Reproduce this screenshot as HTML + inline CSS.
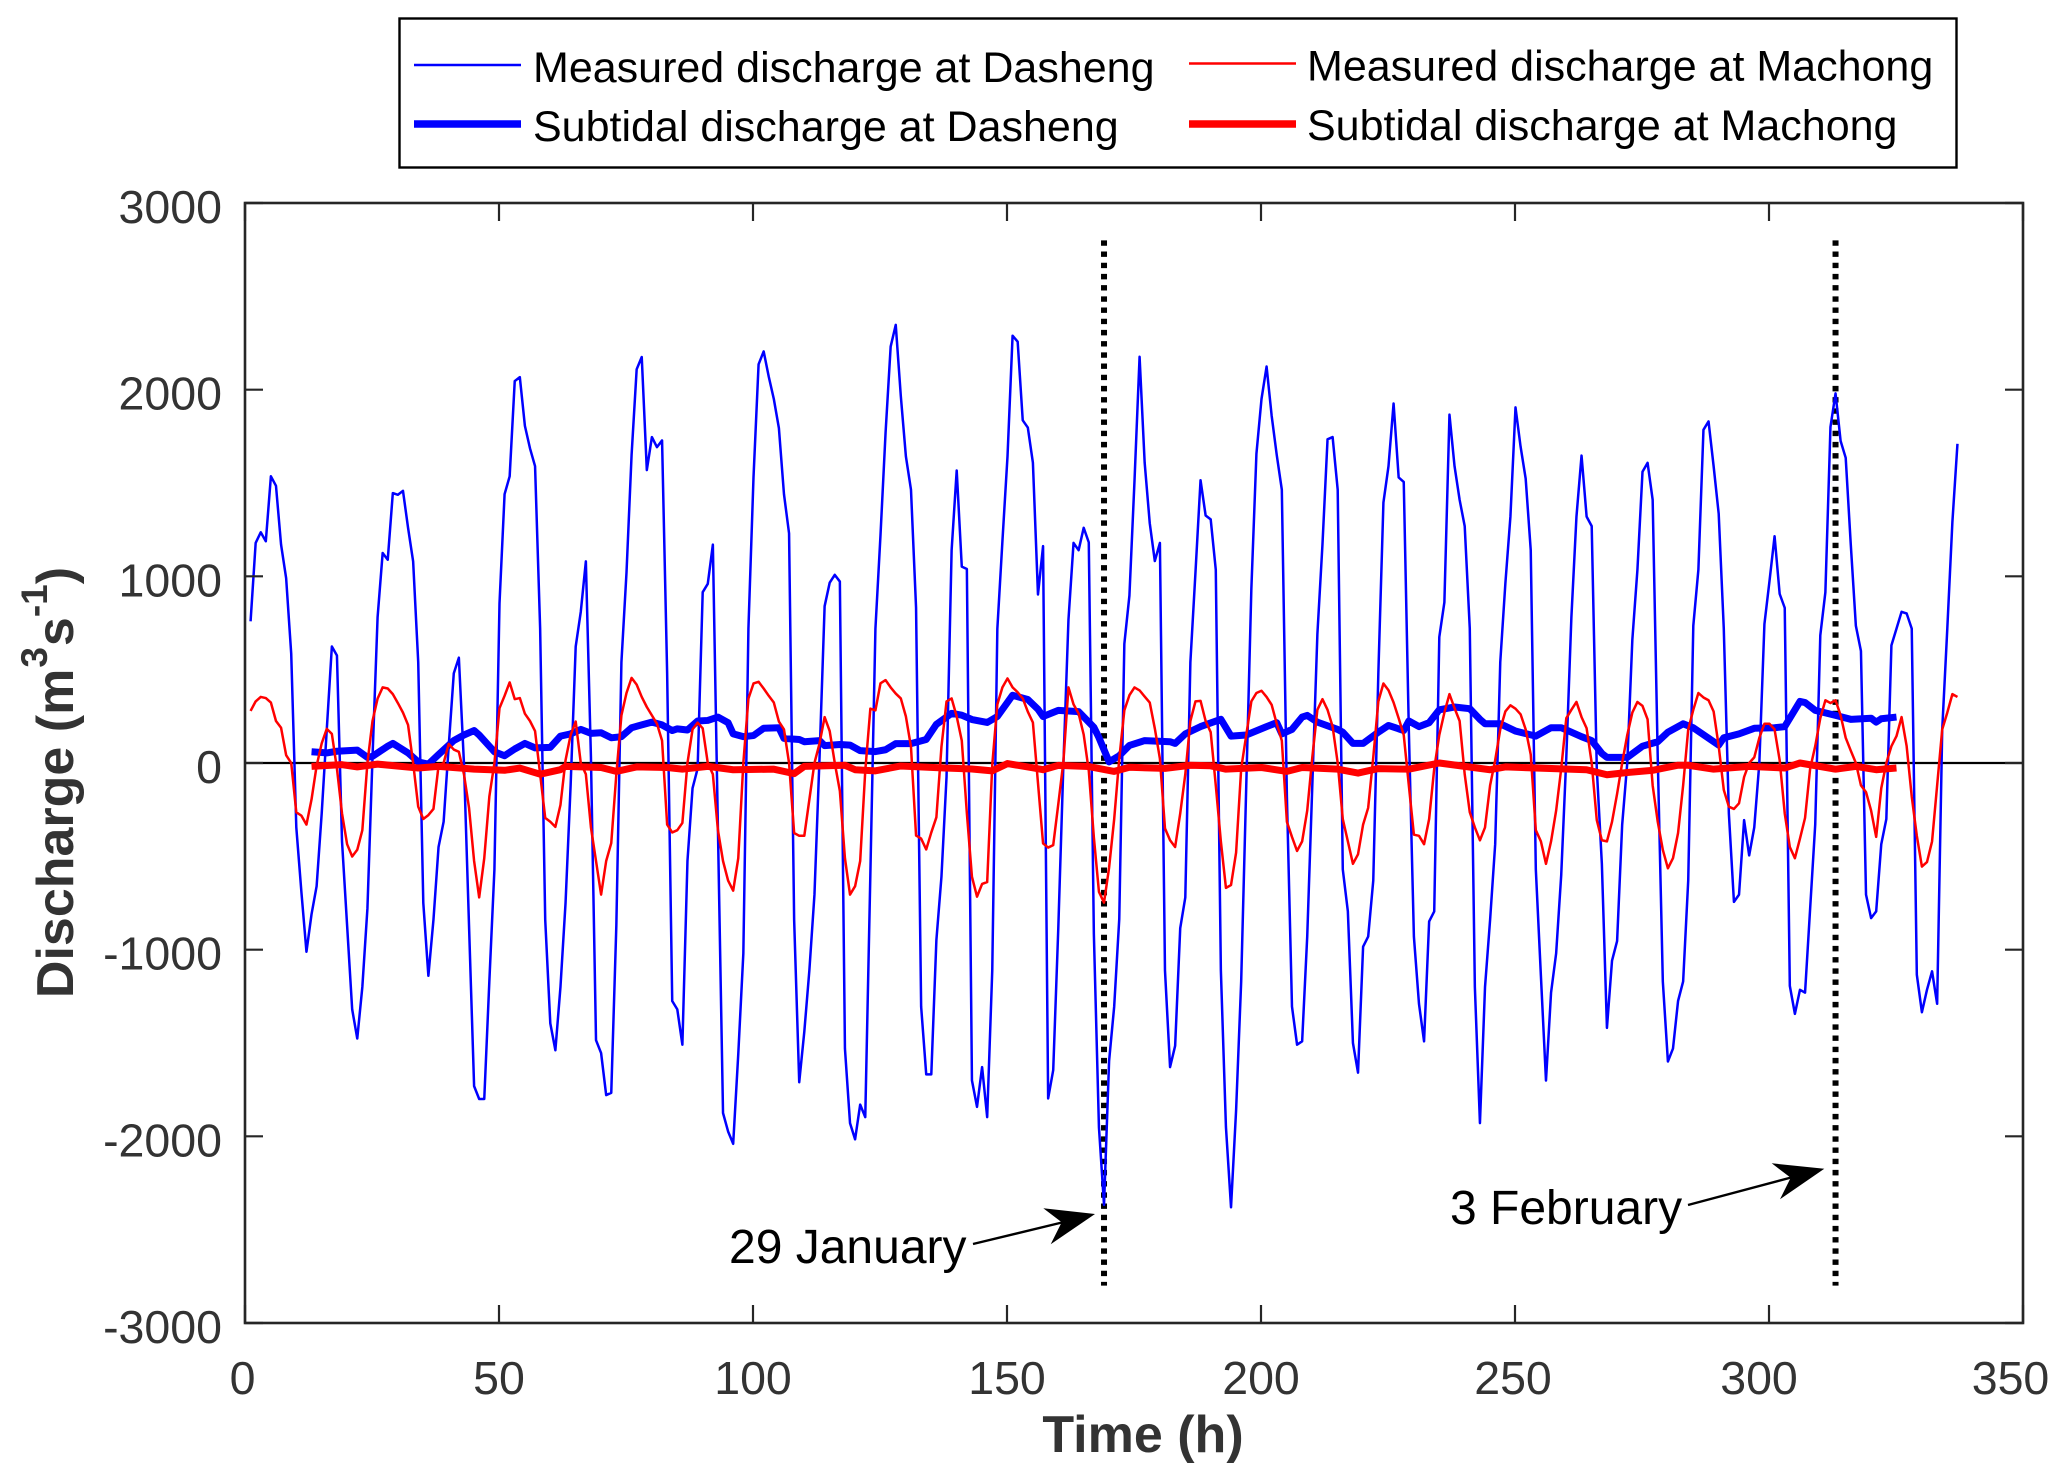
<!DOCTYPE html>
<html lang="en">
<head>
<meta charset="utf-8">
<title>Discharge at Dasheng and Machong</title>
<style>
html,body{margin:0;padding:0;background:#fff;}
svg{display:block;font-family:"Liberation Sans",Arial,sans-serif;}
</style>
</head>
<body>
<svg id="chart" xmlns="http://www.w3.org/2000/svg" width="2067" height="1482" viewBox="0 0 2067 1482">
  <rect x="0" y="0" width="2067" height="1482" fill="#fff"/>
  <g id="marks" transform="translate(0.5 0)"></g>
  <g id="axes"></g>

  <text x="1143" y="1452" font-size="52" font-weight="bold" fill="#333" text-anchor="middle">Time (h)</text>
  <text transform="translate(73 782.5) rotate(-90)" font-size="52" font-weight="bold" fill="#333" text-anchor="middle">Discharge (m<tspan font-size="37" dy="-26" dx="1">3</tspan><tspan dy="26" dx="1">s</tspan><tspan font-size="37" dy="-26">-1</tspan><tspan dy="26">)</tspan></text>

  <g>
    <text x="729" y="1263" font-size="48" fill="#000">29 January</text>
    <line x1="973" y1="1244" x2="1064" y2="1222" stroke="#000" stroke-width="2.4"/>
    <polygon points="1095,1214 1050.7,1244.3 1061.7,1222.3 1043.3,1208.3" fill="#000"/>
  </g>
  <g>
    <text x="1450" y="1224" font-size="48" fill="#000">3 February</text>
    <line x1="1688" y1="1205" x2="1793" y2="1177" stroke="#000" stroke-width="2.4"/>
    <polygon points="1824.3,1168.7 1780,1199.3 1790.7,1177.7 1771.7,1163.3" fill="#000"/>
  </g>

  <g>
    <rect x="399.5" y="18.5" width="1557" height="149" fill="#fff" stroke="#000" stroke-width="2.4"/>
    <line x1="414" y1="65" x2="521" y2="65" stroke="#0000ff" stroke-width="2.5"/>
    <text x="533" y="82" font-size="43" fill="#000">Measured discharge at Dasheng</text>
    <line x1="414" y1="124" x2="521" y2="124" stroke="#0000ff" stroke-width="7.5"/>
    <text x="533" y="141" font-size="43" fill="#000">Subtidal discharge at Dasheng</text>
    <line x1="1189" y1="63.5" x2="1296" y2="63.5" stroke="#ff0000" stroke-width="2.5"/>
    <text x="1307" y="80.5" font-size="43" fill="#000">Measured discharge at Machong</text>
    <line x1="1189" y1="124" x2="1296" y2="124" stroke="#ff0000" stroke-width="7.5"/>
    <text x="1307" y="140" font-size="43" fill="#000">Subtidal discharge at Machong</text>
  </g>
</svg>
<script>
const xTickValues = [0,50,100,150,200,250,300,350];
const yTickValues = [3000,2000,1000,0,-1000,-2000,-3000];
const measuredStartHour = 1;
const measuredDasheng = [
759,1179,1236,1188,1536,1485,1170,990,585,-345,
-690,-1011,-810,-660,-270,180,624,576,-420,-870,
-1320,-1476,-1200,-780,30,780,1125,1089,1446,1437,
1458,1260,1080,540,-750,-1140,-840,-450,-315,90,
480,564,0,-870,-1731,-1800,-1800,-1170,-570,855,
1440,1536,2046,2067,1806,1686,1590,720,-840,-1395,
-1539,-1200,-750,-120,624,810,1080,30,-1485,-1554,
-1779,-1767,-870,540,1020,1650,2109,2175,1569,1746,
1692,1728,480,-1275,-1320,-1509,-525,-135,-30,915,
960,1170,-360,-1875,-1974,-2040,-1560,-1020,720,1530,
2136,2205,2070,1950,1794,1440,1230,-840,-1710,-1440,
-1110,-705,30,840,966,1008,972,-1530,-1929,-2016,
-1830,-1897,-600,719,1221,1771,2231,2347,1965,1642,
1464,832,-1305,-1668,-1668,-949,-609,-74,1140,1567,
1052,1039,-1700,-1842,-1629,-1897,-1111,719,1188,1642,
2289,2257,1836,1797,1609,903,1162,-1797,-1645,-884,
-10,767,1179,1140,1260,1182,-916,-1952,-2367,-1596,
-1305,-835,638,897,1512,2176,1609,1285,1082,1179,
-1111,-1629,-1515,-885,-720,540,1020,1515,1326,1305,
1035,-1110,-1950,-2380,-1860,-1170,-120,930,1656,1950,
2124,1860,1650,1464,-180,-1305,-1509,-1491,-930,-120,
690,1170,1734,1746,1464,-570,-795,-1500,-1659,-984,
-930,-630,480,1395,1590,1926,1530,1506,180,-930,
-1290,-1491,-849,-795,675,861,1866,1590,1410,1269,
720,-1200,-1929,-1200,-840,-435,540,960,1320,1905,
1695,1524,1140,-570,-1140,-1701,-1230,-1020,-600,30,
780,1320,1647,1320,1269,-30,-540,-1419,-1059,-954,
-330,0,660,1035,1560,1608,1410,30,-1170,-1599,
-1530,-1275,-1170,-630,735,1035,1785,1830,1590,1335,
720,-270,-744,-705,-306,-495,-345,0,744,975,
1215,906,831,-1194,-1344,-1215,-1230,-780,-330,684,
915,1800,1980,1725,1635,1170,735,600,-705,-831,
-795,-435,-300,630,720,810,801,720,-1134,-1335,
-1215,-1116,-1290,180,720,1290,1710];
const measuredMachong = [
279,330,354,348,324,225,189,42,0,-264,
-282,-330,-195,-15,105,183,156,-30,-270,-435,
-501,-465,-360,0,225,345,405,399,369,321,
270,204,0,-234,-300,-279,-246,-15,0,102,
72,60,-60,-240,-525,-720,-510,-180,0,294,
360,432,342,348,264,225,171,-60,-294,-315,
-342,-225,15,150,222,0,-60,-345,-525,-705,
-525,-429,-60,255,375,456,420,354,300,255,
210,120,-330,-372,-360,-321,0,180,216,186,
0,-60,-360,-525,-630,-684,-510,0,345,426,
435,399,360,324,222,180,0,-375,-390,-390,
-195,0,105,246,171,0,-150,-510,-705,-660,
-525,-42,291,282,427,444,405,372,346,249,
87,-389,-405,-463,-372,-291,87,330,346,249,
120,-269,-609,-716,-648,-638,-10,314,405,453,
405,379,346,275,217,-107,-431,-453,-440,-220,
6,405,314,265,152,-42,-398,-690,-748,-560,
-301,23,282,363,405,389,356,324,185,23,
-350,-414,-450,-270,-60,225,330,333,225,165,
-120,-420,-669,-654,-480,-30,150,330,375,387,
354,312,210,120,-315,-396,-471,-420,-255,30,
285,342,285,195,0,-300,-420,-540,-489,-330,
-240,30,330,426,390,324,240,150,-120,-384,
-390,-435,-300,-30,150,270,369,294,225,-60,
-264,-345,-414,-345,-120,15,180,276,309,291,
261,180,45,-360,-420,-540,-420,-255,-30,240,
285,327,246,186,0,-306,-414,-420,-315,-165,
0,150,270,327,306,234,-120,-315,-465,-564,
-510,-375,-120,180,285,375,351,336,276,90,
-144,-234,-246,-216,-75,0,30,135,210,210,
180,15,-270,-450,-510,-405,-294,-30,90,240,
336,321,336,255,135,66,0,-120,-156,-255,
-396,-135,0,90,144,246,90,-180,-390,-555,
-531,-420,-120,180,270,369,354];
const subtidalDashengHours = [13,16,18,22,24,25,28,29,32,34,36,38,41,43,45,46,48,49,51,53,55,57,60,62,64,66,68,70,72,74,76,78,80,82,84,85,87,89,91,93,95,96,98,100,102,105,106,109,110,113,114,117,119,121,124,126,128,131,134,136,139,141,143,146,148,151,154,156,157,160,164,167,168,170,172,174,177,182,183,185,188,192,194,197,201,203,204,206,208,209,211,215,216,218,220,223,225,228,229,231,233,235,238,241,243,244,247,250,254,257,259,263,265,267,268,272,275,278,280,283,285,290,291,294,297,301,303,305,306,307,309,313,316,320,321,322,325];
const subtidalDasheng = [60,54,63,69,30,36,90,105,54,6,-6,45,120,150,174,150,90,60,39,75,105,81,84,144,156,180,159,162,135,141,189,204,219,204,174,183,177,225,228,246,216,156,141,147,186,189,132,126,114,120,93,99,96,66,61,71,104,104,126,207,266,256,233,217,249,363,340,288,249,282,275,191,136,6,39,94,120,114,105,156,195,234,144,150,195,216,156,180,246,255,219,180,165,105,105,165,201,174,225,195,216,285,300,291,234,210,210,171,144,189,189,141,120,51,30,30,90,114,165,210,189,96,135,156,186,189,195,285,330,324,282,255,234,240,219,237,246];
const subtidalMachongHours = [13,19,22,26,34,38,45,51,54,58,62,63,70,73,77,83,86,91,96,104,108,110,118,120,124,129,137,143,147,150,155,157,160,166,171,174,181,186,190,193,200,205,208,215,219,223,229,235,240,245,248,264,268,272,277,282,284,289,296,303,306,313,317,321,325];
const subtidalMachong = [-18,-9,-21,-6,-27,-18,-33,-39,-27,-60,-36,-18,-24,-45,-21,-24,-33,-18,-36,-33,-57,-18,-12,-36,-42,-16,-26,-32,-42,-3,-26,-36,-13,-19,-45,-23,-29,-12,-15,-33,-24,-45,-24,-33,-54,-30,-33,0,-18,-36,-21,-36,-63,-51,-39,-12,-12,-33,-18,-27,0,-33,-18,-36,-27];
const eventHours = [169,313];
const eventRange = [2800,-2800];

const NS = 'http://www.w3.org/2000/svg';
const plot = {left:245,right:2023,top:203,bottom:1323};
const xMin = 0, xMax = 350, yMin = -3000, yMax = 3000;
function xScale(v){ return plot.left + (v - xMin) / (xMax - xMin) * (plot.right - plot.left); }
function yScale(v){ return plot.top + (yMax - v) / (yMax - yMin) * (plot.bottom - plot.top); }
function make(tag, parent){ const el = document.createElementNS(NS, tag); parent.appendChild(el); return el; }
function pathFrom(hours, values){
  return values.map(function(v,i){ return (i ? 'L' : 'M') + xScale(hours[i]).toFixed(2) + ' ' + yScale(v).toFixed(2); }).join('');
}
function xLabelNudge(v){
  if (v === 0) return -2.5;
  if (v === 250) return -2;
  if (v === 300) return -10;
  if (v === 350) return -12.5;
  return 0;
}
const marks = document.getElementById('marks');
const axes = document.getElementById('axes');
const measuredHours = measuredDasheng.map(function(_,i){ return measuredStartHour + i; });
const measuredHoursM = measuredMachong.map(function(_,i){ return measuredStartHour + i; });

const zeroLine = make('line', marks);


zeroLine.setAttribute('x1', xScale(xMin));
zeroLine.setAttribute('x2', xScale(xMax));
zeroLine.setAttribute('y1', yScale(0));
zeroLine.setAttribute('y2', yScale(0));
zeroLine.setAttribute('stroke', '#000');
zeroLine.setAttribute('stroke-width', '2.2');

eventHours.forEach(function(h){
  const ln = make('line', marks);
  
  
  ln.setAttribute('x1', xScale(h));
  ln.setAttribute('x2', xScale(h));
  ln.setAttribute('y1', yScale(eventRange[0]));
  ln.setAttribute('y2', yScale(eventRange[1]));
  ln.setAttribute('stroke', '#000');
  ln.setAttribute('stroke-width', '6');
  ln.setAttribute('stroke-dasharray', '5.4 5.8');
});

const lineMD = make('path', marks);


lineMD.setAttribute('d', pathFrom(measuredHours, measuredDasheng));
lineMD.setAttribute('fill', 'none');
lineMD.setAttribute('stroke', '#0000ff');
lineMD.setAttribute('stroke-width', '2.5');
lineMD.setAttribute('stroke-linejoin', 'round');

const lineSD = make('path', marks);


lineSD.setAttribute('d', pathFrom(subtidalDashengHours, subtidalDasheng));
lineSD.setAttribute('fill', 'none');
lineSD.setAttribute('stroke', '#0000ff');
lineSD.setAttribute('stroke-width', '7');
lineSD.setAttribute('stroke-linejoin', 'round');

const lineMM = make('path', marks);


lineMM.setAttribute('d', pathFrom(measuredHoursM, measuredMachong));
lineMM.setAttribute('fill', 'none');
lineMM.setAttribute('stroke', '#ff0000');
lineMM.setAttribute('stroke-width', '2.5');
lineMM.setAttribute('stroke-linejoin', 'round');

const lineSM = make('path', marks);


lineSM.setAttribute('d', pathFrom(subtidalMachongHours, subtidalMachong));
lineSM.setAttribute('fill', 'none');
lineSM.setAttribute('stroke', '#ff0000');
lineSM.setAttribute('stroke-width', '7');
lineSM.setAttribute('stroke-linejoin', 'round');

const frame = make('rect', axes);


frame.setAttribute('x', plot.left);
frame.setAttribute('y', plot.top);
frame.setAttribute('width', plot.right - plot.left);
frame.setAttribute('height', plot.bottom - plot.top);
frame.setAttribute('fill', 'none');
frame.setAttribute('stroke', '#262626');
frame.setAttribute('stroke-width', '2.6');

const TICK = 18;
xTickValues.forEach(function(v){
  const x = xScale(v);
  [[plot.bottom, plot.bottom - TICK],[plot.top, plot.top + TICK]].forEach(function(p){
    const t = make('line', axes);
    
    
    t.setAttribute('x1', x);
    t.setAttribute('x2', x);
    t.setAttribute('y1', p[0]);
    t.setAttribute('y2', p[1]);
    t.setAttribute('stroke', '#262626');
    t.setAttribute('stroke-width', '2.2');
  });
  const lab = make('text', axes);
  
  
  lab.setAttribute('x', x + xLabelNudge(v));
  lab.setAttribute('y', 1394);
  lab.setAttribute('font-size', '46.5');
  lab.setAttribute('fill', '#333');
  lab.setAttribute('text-anchor', 'middle');
  lab.textContent = String(v);
});
yTickValues.forEach(function(v){
  const y = yScale(v);
  [[plot.left, plot.left + TICK],[plot.right, plot.right - TICK]].forEach(function(p){
    const t = make('line', axes);
    
    
    t.setAttribute('x1', p[0]);
    t.setAttribute('x2', p[1]);
    t.setAttribute('y1', y);
    t.setAttribute('y2', y);
    t.setAttribute('stroke', '#262626');
    t.setAttribute('stroke-width', '2.2');
  });
  const lab = make('text', axes);
  
  
  lab.setAttribute('x', 222);
  lab.setAttribute('y', y + 20);
  lab.setAttribute('font-size', '46.5');
  lab.setAttribute('fill', '#333');
  lab.setAttribute('text-anchor', 'end');
  lab.textContent = String(v);
});
</script>
</body>
</html>
